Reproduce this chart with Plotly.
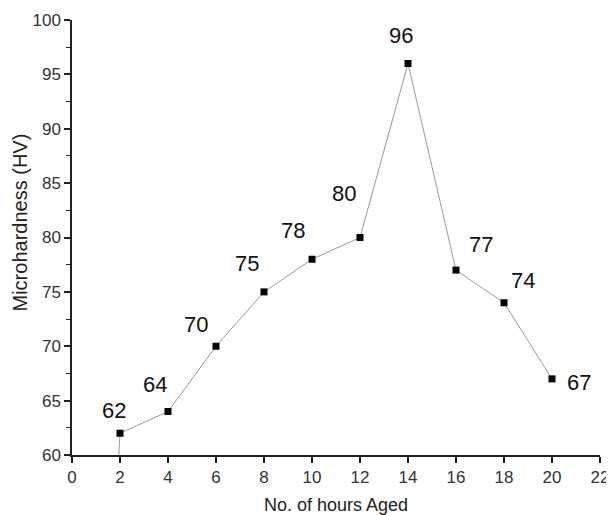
import plotly.graph_objects as go

hours = [2, 4, 6, 8, 10, 12, 14, 16, 18, 20]
hardness = [62, 64, 70, 75, 78, 80, 96, 77, 74, 67]
labels = [str(v) for v in hardness]
# label offsets (pixels) relative to each point
label_dx = [-6, -13, -20, -17, -19, -16, -7, 25, 19, 27]
label_dy = [-23, -27, -22, -28, -29, -44, -28, -26, -22, 4]

# short stray segment at start of the curve
stub_x = [1.95, 2]
stub_y = [60, 62]

FONT = "Liberation Sans, Arial"
fig = go.Figure()
fig.add_trace(go.Scatter(x=stub_x, y=stub_y, mode="lines",
                         line=dict(color="#9a9a9a", width=1), showlegend=False, hoverinfo="skip",
                         cliponaxis=False))
fig.add_trace(go.Scatter(x=hours, y=hardness, mode="lines+markers",
                         line=dict(color="#9a9a9a", width=1),
                         marker=dict(symbol="square", size=7, color="black"),
                         showlegend=False))
for x, y, t, dx, dy in zip(hours, hardness, labels, label_dx, label_dy):
    fig.add_annotation(x=x, y=y, text=t, showarrow=False, xshift=dx, yshift=-dy,
                       font=dict(size=22, color="#111", family=FONT))

# axis titles
fig.add_annotation(xref="paper", yref="paper", x=0.5, y=0, yshift=-50, text="No. of hours Aged",
                   showarrow=False, yanchor="middle",
                   font=dict(size=18, color="#222", family=FONT))
fig.add_annotation(xref="paper", yref="paper", x=0, y=0.5, xshift=-53, yshift=15,
                   text="Microhardness (HV)",
                   showarrow=False, xanchor="center", textangle=-90,
                   font=dict(size=20, color="#222", family=FONT))

axis_common = dict(showline=True, linecolor="#222", linewidth=1.5, ticks="outside",
                   tickcolor="#222", ticklen=6, tickwidth=1.5, showgrid=False, zeroline=False,
                   tickfont=dict(size=17, color="#333", family=FONT),
                   mirror=False, automargin=False)
fig.update_xaxes(range=[0, 22], dtick=2, tick0=0, **axis_common)
fig.update_yaxes(range=[60, 100], dtick=5, tick0=60,
                 minor=dict(ticks="outside", dtick=2.5, ticklen=4, tickcolor="#222", tickwidth=1.2),
                 **axis_common)
fig.update_layout(width=606, height=507, margin=dict(l=64, r=14, t=12, b=60),
                  plot_bgcolor="white", paper_bgcolor="white")
fig.write_html("out.html")
